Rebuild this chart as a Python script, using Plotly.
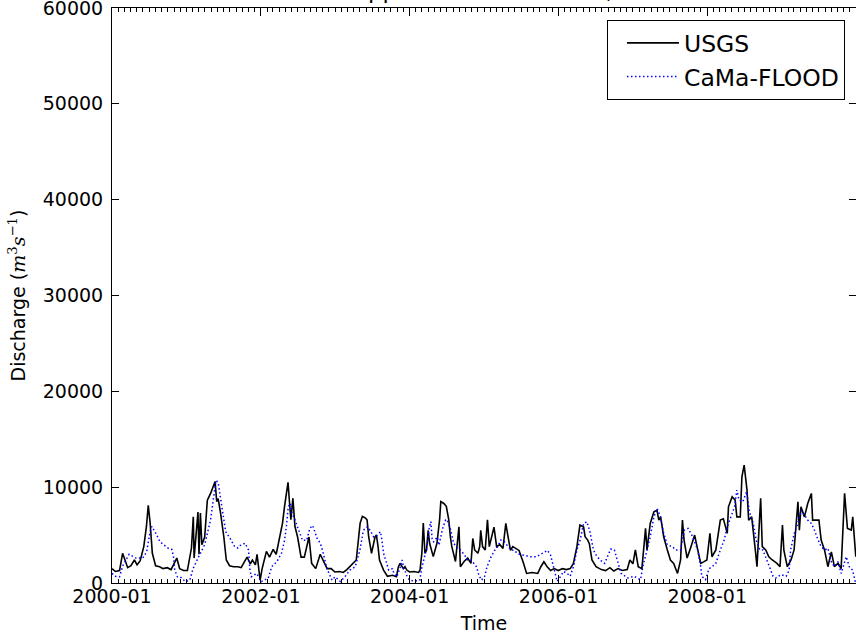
import plotly.graph_objects as go

# ---------------- data ----------------
usgs_dates = [
    "2000-01-01", "2000-01-18", "2000-02-07", "2000-02-22", "2000-03-03", "2000-03-18", "2000-04-03",
    "2000-04-20", "2000-05-03", "2000-05-18", "2000-06-05", "2000-06-18", "2000-06-27", "2000-07-06",
    "2000-07-17", "2000-08-02", "2000-08-22", "2000-09-07", "2000-09-28", "2000-10-17", "2000-11-14",
    "2000-11-28", "2000-12-17",
    "2001-01-05", "2001-01-25", "2001-02-03", "2001-02-07", "2001-02-26", "2001-03-03", "2001-03-10",
    "2001-03-17", "2001-03-31", "2001-04-13", "2001-04-30", "2001-05-21", "2001-05-29", "2001-06-05",
    "2001-06-17", "2001-07-03", "2001-07-15", "2001-07-31", "2001-08-20", "2001-09-10", "2001-09-26",
    "2001-10-25", "2001-11-10", "2001-11-20", "2001-12-05", "2001-12-13", "2001-12-23",
    "2001-12-28", "2002-01-07", "2002-01-28", "2002-02-12", "2002-03-02", "2002-03-17", "2002-04-07",
    "2002-04-17", "2002-04-27", "2002-05-07", "2002-05-14", "2002-05-21", "2002-05-28", "2002-06-07",
    "2002-06-17", "2002-06-30", "2002-07-17", "2002-08-02", "2002-08-25", "2002-09-07", "2002-09-27",
    "2002-10-19", "2002-11-02", "2002-11-22", "2002-12-12",
    "2002-12-30", "2003-01-21", "2003-02-09", "2003-02-27", "2003-03-28", "2003-04-14", "2003-05-03",
    "2003-05-14", "2003-05-28", "2003-06-06", "2003-06-14", "2003-06-28", "2003-07-15", "2003-07-22",
    "2003-07-30", "2003-08-06", "2003-08-26", "2003-09-14", "2003-10-09", "2003-10-28", "2003-11-07",
    "2003-11-15", "2003-12-01", "2003-12-09",
    "2003-12-18", "2004-01-01", "2004-01-22", "2004-02-14", "2004-02-21", "2004-03-01", "2004-03-08",
    "2004-03-16", "2004-03-24", "2004-04-01", "2004-04-08", "2004-04-19", "2004-04-26", "2004-05-14",
    "2004-05-27", "2004-06-02", "2004-06-17", "2004-06-29", "2004-07-11", "2004-07-19", "2004-07-26",
    "2004-08-13", "2004-08-30", "2004-09-06", "2004-09-24", "2004-10-12", "2004-10-28", "2004-11-06",
    "2004-11-15", "2004-12-01", "2004-12-10",
    "2004-12-15", "2004-12-24", "2005-01-06", "2005-01-17", "2005-01-26", "2005-02-18", "2005-03-03",
    "2005-03-19", "2005-04-03", "2005-04-17", "2005-05-01", "2005-05-10", "2005-05-21", "2005-06-05",
    "2005-06-21", "2005-07-13", "2005-07-28", "2005-08-24", "2005-09-21", "2005-10-06", "2005-10-21",
    "2005-11-06", "2005-11-23", "2005-12-11",
    "2005-12-30", "2006-01-20", "2006-02-08", "2006-02-27", "2006-03-15", "2006-04-01", "2006-04-16",
    "2006-05-04", "2006-05-11", "2006-05-24", "2006-06-01", "2006-06-14", "2006-07-04", "2006-07-30",
    "2006-08-20", "2006-09-10", "2006-09-29", "2006-10-20", "2006-11-10", "2006-12-04",
    "2006-12-17", "2007-01-01", "2007-01-13", "2007-01-27", "2007-02-14", "2007-03-04", "2007-03-11",
    "2007-03-27", "2007-04-14", "2007-04-29", "2007-05-08", "2007-05-17", "2007-06-01", "2007-06-19",
    "2007-07-04", "2007-07-20", "2007-08-08", "2007-08-23", "2007-09-01", "2007-09-09", "2007-09-24",
    "2007-10-13", "2007-10-31", "2007-11-15", "2007-11-30",
    "2007-12-14", "2007-12-30", "2008-01-14", "2008-01-24", "2008-02-12", "2008-02-20", "2008-03-05",
    "2008-03-20", "2008-04-08", "2008-04-14", "2008-05-02", "2008-05-17", "2008-05-25", "2008-06-11",
    "2008-06-19", "2008-06-30", "2008-07-14", "2008-07-22", "2008-08-06", "2008-08-24", "2008-09-01",
    "2008-09-19", "2008-09-27", "2008-10-14", "2008-10-29", "2008-11-15",
    "2008-12-08", "2008-12-23", "2009-01-04", "2009-01-11", "2009-01-28", "2009-02-15", "2009-03-02",
    "2009-03-21", "2009-03-28", "2009-04-05", "2009-04-22", "2009-05-08", "2009-05-26", "2009-06-01",
    "2009-06-15", "2009-07-02", "2009-07-13", "2009-07-30", "2009-08-15", "2009-09-01", "2009-09-16",
    "2009-10-04", "2009-10-19", "2009-11-05", "2009-11-19", "2009-12-08", "2009-12-15", "2009-12-30",
]
usgs_values = [
    1500, 1200, 1300, 3100, 2500, 1600, 1800,
    2400, 1900, 2300, 3800, 5900, 8100, 6300,
    3100, 1800, 1700, 1500, 1600, 1400, 2600,
    1500, 1300,
    1300, 3650, 6900, 2600, 7400, 3000, 7300,
    4000, 4800, 8650, 9400, 10600, 8500, 8800,
    7300, 4800, 2400, 1800, 1700, 1700, 1600,
    2700, 2000, 2400, 1900, 3000, 1200,
    300, 1500, 3300, 2700, 3500, 3000, 5000,
    6250, 8000, 9350, 10500, 8500, 6600, 8850,
    5900, 4800, 2700, 2700, 4800, 2050, 1500,
    3000, 2400, 1500, 1500,
    1150, 1200, 1100, 1400, 2050, 2400, 6250,
    6950, 6800, 6600, 4800, 3100, 4800, 5000,
    3800, 2400, 1350, 700, 800, 650, 1700,
    2050, 1500, 1700,
    1350, 1150, 1200, 1100, 1350, 3100, 6250,
    3100, 3450, 5500, 4150, 3100, 2750, 4150,
    6600, 8500, 8300, 8000, 6600, 4800, 3800,
    2250, 5870, 1700, 2250, 2600, 2050, 4650,
    3450, 3100, 3800,
    5500, 3800, 3450, 6600, 3800, 5830, 3790,
    4000, 3600, 6220, 4480, 3400, 3790, 3600,
    3400, 2050, 1000, 1100, 1000, 1700, 2220,
    1700, 1300, 1500,
    1300, 1500, 1400, 1500, 2050, 3790, 6040,
    5830, 4830, 4480, 4100, 2400, 1700, 1400,
    1300, 1600, 1250, 1500, 1300, 1400,
    2400, 2000, 3450, 1700, 1500, 5700, 3450,
    6220, 7430, 7600, 6560, 6900, 4830, 3450,
    2400, 2050, 1000, 2400, 6560, 4480, 2600,
    3790, 5000, 3450, 2050,
    2200, 2400, 5180, 2740, 3450, 4480, 6560,
    6700, 5180, 7950, 9000, 8650, 6900, 6900,
    11080, 12300, 9700, 6560, 6900, 3400, 1700,
    8830, 3790, 3450, 2740, 2400,
    2050, 1700, 6040, 3400, 1700, 2400, 3450,
    8470, 5500, 7950, 6900, 8300, 9350, 6560,
    6560, 6560, 4480, 3400, 1700, 3240, 1700,
    2050, 1500, 9350, 5700, 5520, 6900, 2740,
]

cama_dates = [
    "2000-01-01", "2000-01-18", "2000-02-07", "2000-02-23", "2000-03-25", "2000-04-28", "2000-05-31",
    "2000-06-19", "2000-07-06", "2000-07-14", "2000-07-30", "2000-08-24", "2000-09-10", "2000-10-05",
    "2000-10-21", "2000-10-29", "2000-11-04", "2000-11-17", "2000-12-01", "2000-12-26",
    "2001-01-17", "2001-02-02", "2001-02-26", "2001-03-31", "2001-04-29", "2001-05-14", "2001-05-25",
    "2001-06-05", "2001-06-19", "2001-07-05", "2001-07-12", "2001-08-03", "2001-08-25", "2001-09-09",
    "2001-09-20", "2001-10-15", "2001-11-01", "2001-11-08", "2001-11-15", "2001-12-11",
    "2002-01-03", "2002-02-06", "2002-02-23", "2002-03-21", "2002-04-12", "2002-04-27", "2002-05-06",
    "2002-05-15", "2002-05-26", "2002-06-02", "2002-06-17", "2002-07-02", "2002-07-24", "2002-08-14",
    "2002-08-29", "2002-09-12", "2002-10-04", "2002-10-19", "2002-10-30", "2002-11-21", "2002-12-16",
    "2002-12-31", "2003-01-26", "2003-02-17", "2003-03-14", "2003-04-09", "2003-05-02", "2003-05-19",
    "2003-06-07", "2003-06-21", "2003-07-09", "2003-07-24", "2003-08-11", "2003-08-18", "2003-08-26",
    "2003-09-05", "2003-09-20", "2003-10-09", "2003-10-16", "2003-10-30", "2003-11-17", "2003-11-24",
    "2003-12-02", "2003-12-20",
    "2004-01-01", "2004-01-27", "2004-02-20", "2004-02-29", "2004-03-11", "2004-03-19", "2004-03-26",
    "2004-04-06", "2004-04-14", "2004-04-21", "2004-04-28", "2004-05-16", "2004-05-24", "2004-06-11",
    "2004-06-26", "2004-07-03", "2004-07-21", "2004-07-28", "2004-08-04", "2004-08-23", "2004-09-06",
    "2004-09-25", "2004-10-13", "2004-10-29", "2004-11-24", "2004-12-06",
    "2004-12-19", "2005-01-03", "2005-01-15", "2005-02-03", "2005-02-21", "2005-03-08", "2005-03-24",
    "2005-04-11", "2005-04-28", "2005-05-15", "2005-05-29", "2005-06-14", "2005-07-15", "2005-08-15",
    "2005-09-14", "2005-11-08", "2005-11-23", "2005-12-11",
    "2005-12-25", "2006-01-11", "2006-01-25", "2006-02-12", "2006-02-27", "2006-03-15", "2006-04-01",
    "2006-04-17", "2006-05-04", "2006-05-20", "2006-06-04", "2006-06-21", "2006-07-09", "2006-07-30",
    "2006-08-15", "2006-09-14", "2006-10-02", "2006-10-16", "2006-11-04", "2006-12-07",
    "2007-01-06", "2007-02-07", "2007-02-22", "2007-03-12", "2007-03-27", "2007-04-14", "2007-04-29",
    "2007-05-17", "2007-06-01", "2007-06-19", "2007-07-15", "2007-07-29", "2007-08-23", "2007-09-11",
    "2007-09-29", "2007-10-21", "2007-11-15", "2007-11-30",
    "2007-12-05", "2007-12-23", "2008-01-10", "2008-01-25", "2008-02-12", "2008-03-05", "2008-03-24",
    "2008-04-08", "2008-04-26", "2008-05-14", "2008-05-25", "2008-06-05", "2008-06-23", "2008-07-12",
    "2008-07-26", "2008-08-14", "2008-08-28", "2008-09-15", "2008-09-30", "2008-10-18", "2008-11-02",
    "2008-11-19",
    "2008-12-02", "2008-12-27", "2009-01-22", "2009-02-06", "2009-02-13", "2009-03-03", "2009-03-21",
    "2009-04-05", "2009-04-23", "2009-05-08", "2009-05-26", "2009-06-10", "2009-06-28", "2009-07-13",
    "2009-07-31", "2009-08-15", "2009-09-01", "2009-09-16", "2009-10-04", "2009-10-19", "2009-11-13",
    "2009-11-28", "2009-12-14", "2009-12-29",
]
cama_values = [
    1000, 700, 650, 1800, 3000, 2600, 2600,
    3250, 5350, 5900, 5350, 4300, 4000, 3600,
    3500, 2750, 1350, 650, 650, 150,
    300, 1500, 2600, 4000, 6600, 9000, 10700,
    10500, 8650, 6600, 5350, 4650, 3800, 3650,
    3900, 4150, 3450, 1350, 650, 1000,
    150, 500, 1700, 2250, 3100, 4450, 5870,
    7950, 8300, 7300, 6600, 5700, 4450, 4450,
    5700, 6000, 4650, 4150, 3450, 1500, 300,
    650, 150, 650, 1350, 1700, 3450, 5500,
    5870, 5500, 4800, 4950, 5350, 4450, 3100,
    2400, 1350, 1500, 1000, 650, 1700, 2400,
    1700, 650,
    300, 200, 300, 1500, 2400, 3100, 3800,
    5700, 6400, 4450, 4300, 4800, 3950, 5700,
    6600, 6600, 5500, 4800, 4150, 3650, 3450,
    2950, 2400, 2400, 1700, 800,
    300, 700, 1700, 2700, 3400, 3790, 4480,
    4300, 3790, 3450, 3400, 3050, 2900, 2740,
    2740, 3400, 2900, 1350,
    170, 700, 1200, 1000, 700, 1700, 3450,
    4480, 6220, 6390, 5350, 3450, 2740, 2300,
    2050, 3540, 3450, 2400, 1000, 520,
    700, 350, 2050, 3450, 4830, 6900, 7780,
    6900, 5180, 3970, 3790, 3450, 3450, 5520,
    5700, 4830, 3450, 1700,
    700, 350, 1500, 1700, 2050, 3450, 4480,
    5870, 6900, 7950, 9700, 8650, 8470, 9520,
    7430, 6220, 4480, 3450, 3450, 2400, 1700,
    700,
    520, 870, 700, 1350, 3450, 5180, 6220,
    7600, 7080, 6560, 6220, 5520, 4480, 3790,
    3450, 3620, 2220, 1700, 2220, 1000, 2740,
    1700, 1350, 0,
]

series_names = ["USGS", "CaMa-FLOOD"]
title_text = "Mississippi River at St. Louis, MO"
x_title = "Time"
y_title = ("Discharge (<span style=\"font-family:'DejaVu Serif'\"><i>m</i><sup>3</sup>"
           "<i>s</i><sup>\u22121</sup></span>)")
y_ticks = [0, 10000, 20000, 30000, 40000, 50000, 60000]
x_range = ["2000-01-01", "2009-12-31"]

# ---------------- figure ----------------
FONT = "DejaVu Sans"
fig = go.Figure()
fig.add_trace(go.Scatter(x=usgs_dates, y=usgs_values, mode="lines", name=series_names[0],
                         line=dict(color="black", width=1.6)))
fig.add_trace(go.Scatter(x=cama_dates, y=cama_values, mode="lines", name=series_names[1],
                         line=dict(color="blue", width=1.5, dash="1.5px,2.5px")))

fig.update_layout(
    width=856, height=634,
    margin=dict(l=112, r=0, t=8, b=51, autoexpand=False),
    paper_bgcolor="white", plot_bgcolor="white",
    font=dict(family=FONT, size=19, color="black"),
    showlegend=True,
    legend=dict(x=0.9852, y=0.979, xanchor="right", yanchor="top",
                bgcolor="white", bordercolor="black", borderwidth=1,
                font=dict(size=23.5, family=FONT, color="black"),
                indentation=14, itemwidth=52, tracegroupgap=0),
    xaxis=dict(range=x_range, type="date", automargin=False,
               tickmode="linear", tick0="2000-01-01", dtick="M24", tickformat="%Y-%m",
               ticks="inside", ticklen=8, tickwidth=1, tickcolor="black",
               showline=True, linecolor="black", linewidth=1, mirror="allticks",
               showgrid=False, zeroline=False,
               minor=dict(dtick="M1", tick0="2000-01-01", ticks="inside", ticklen=4,
                          tickwidth=1, tickcolor="black", showgrid=False),
               tickfont=dict(size=19, family=FONT, color="black"),
               ticklabelstandoff=-4, ticklabeloverflow="allow",
               title=dict(text=x_title, font=dict(size=19, family=FONT), standoff=25)),
    yaxis=dict(range=[0, 60000], automargin=False, tickmode="array", tickvals=y_ticks,
               ticktext=[str(v) for v in y_ticks],
               ticks="inside", ticklen=7, tickwidth=1, tickcolor="black",
               showline=True, linecolor="black", linewidth=1, mirror="allticks",
               showgrid=False, zeroline=False,
               tickfont=dict(size=19, family=FONT, color="black"),
               ticklabelstandoff=4, ticklabeloverflow="allow",
               title=dict(text=y_title, font=dict(size=19, family=FONT), standoff=12)),
    annotations=[dict(text=title_text, xref="paper", yref="paper", x=0.48, y=1.0045,
                      xanchor="center", yanchor="bottom", showarrow=False,
                      font=dict(size=23, family=FONT, color="black"))],
)

fig.write_html("out.html", config={"displayModeBar": False},
               post_script="document.body.style.margin='0';")
